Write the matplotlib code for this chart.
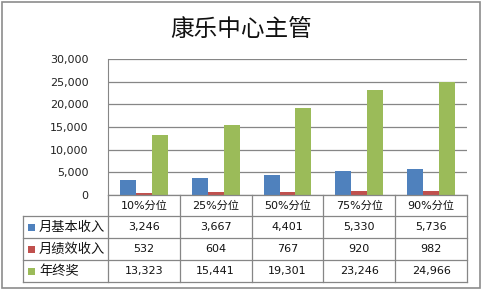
import matplotlib
matplotlib.use("Agg")
import matplotlib.pyplot as plt
from matplotlib.lines import Line2D
from matplotlib.patches import Rectangle

plt.rcParams['font.family'] = ['DejaVu Sans', 'Noto Sans CJK SC']

title = "康乐中心主管"
categories = ["10%分位", "25%分位", "50%分位", "75%分位", "90%分位"]
series_names = ["月基本收入", "月绩效收入", "年终奖"]
basic = [3246, 3667, 4401, 5330, 5736]
perf = [532, 604, 767, 920, 982]
bonus = [13323, 15441, 19301, 23246, 24966]
series = [basic, perf, bonus]
colors = ["#4F81BD", "#C0504D", "#9BBB59"]
yticks = [0, 5000, 10000, 15000, 20000, 25000, 30000]

W, H = 483, 291
fig = plt.figure(figsize=(W / 100, H / 100), dpi=100)

def fx(x):
    return x / W

def fy(y):
    return 1 - y / H

# outer border
fig.add_artist(Rectangle((fx(2), fy(288)), fx(478), 286 / H, transform=fig.transFigure,
                         fill=False, edgecolor="#8c8c8c", lw=1.2))

left, right, top, bottom = 108, 467, 59, 195
ax = fig.add_axes([fx(left), fy(bottom), fx(right - left), (bottom - top) / H])
n = len(categories)
bw = 16 / 72
for i, (vals, c) in enumerate(zip(series, colors)):
    xs = [k + 0.5 + (i - 1) * bw for k in range(n)]
    ax.bar(xs, vals, width=bw, color=c, zorder=3)
ax.set_xlim(0, n)
ax.set_ylim(0, 30000)
ax.set_yticks(yticks)
ax.set_yticklabels([f"{v:,}" for v in yticks], fontsize=8, color="#222222")
ax.tick_params(axis="y", length=0, pad=14)
ax.set_xticks([])
ax.grid(axis="y", color="#868686", lw=0.9, zorder=0)
for s in ["top", "right", "bottom"]:
    ax.spines[s].set_visible(False)
ax.spines["left"].set_color("#868686")

fig.text(fx(241), fy(30), title, ha="center", va="center", fontsize=17,
         family=["Noto Sans CJK SC"], color="#111111")

# data table
gc = "#868686"
col_x = [left + (right - left) * k / n for k in range(n + 1)]
row_y = [195, 216, 238, 260, 282]
lab_x = 23

def line(x0, y0, x1, y1):
    fig.add_artist(Line2D([fx(x0), fx(x1)], [fy(y0), fy(y1)], transform=fig.transFigure,
                          color=gc, lw=0.9))

line(left, row_y[0], right, row_y[0])
for y in row_y[1:]:
    line(lab_x, y, right, y)
for x in col_x:
    line(x, row_y[0], x, row_y[-1])
line(lab_x, row_y[1], lab_x, row_y[-1])

for k, cat in enumerate(categories):
    cx = (col_x[k] + col_x[k + 1]) / 2
    fig.text(fx(cx), fy((row_y[0] + row_y[1]) / 2), cat, ha="center", va="center",
             fontsize=8, color="#111111")
for r, (name, vals, c) in enumerate(zip(series_names, series, colors)):
    cy = (row_y[r + 1] + row_y[r + 2]) / 2
    fig.add_artist(Rectangle((fx(28), fy(cy + 3.5)), fx(7), 7 / H, transform=fig.transFigure,
                             facecolor=c, edgecolor="none"))
    fig.text(fx(39), fy(cy), name, ha="left", va="center", fontsize=9.5,
             family=["Noto Sans CJK SC"], color="#111111")
    for k, v in enumerate(vals):
        cx = (col_x[k] + col_x[k + 1]) / 2
        fig.text(fx(cx), fy(cy), f"{v:,}", ha="center", va="center", fontsize=8,
                 color="#111111")

fig.savefig("out.png", dpi=100)
